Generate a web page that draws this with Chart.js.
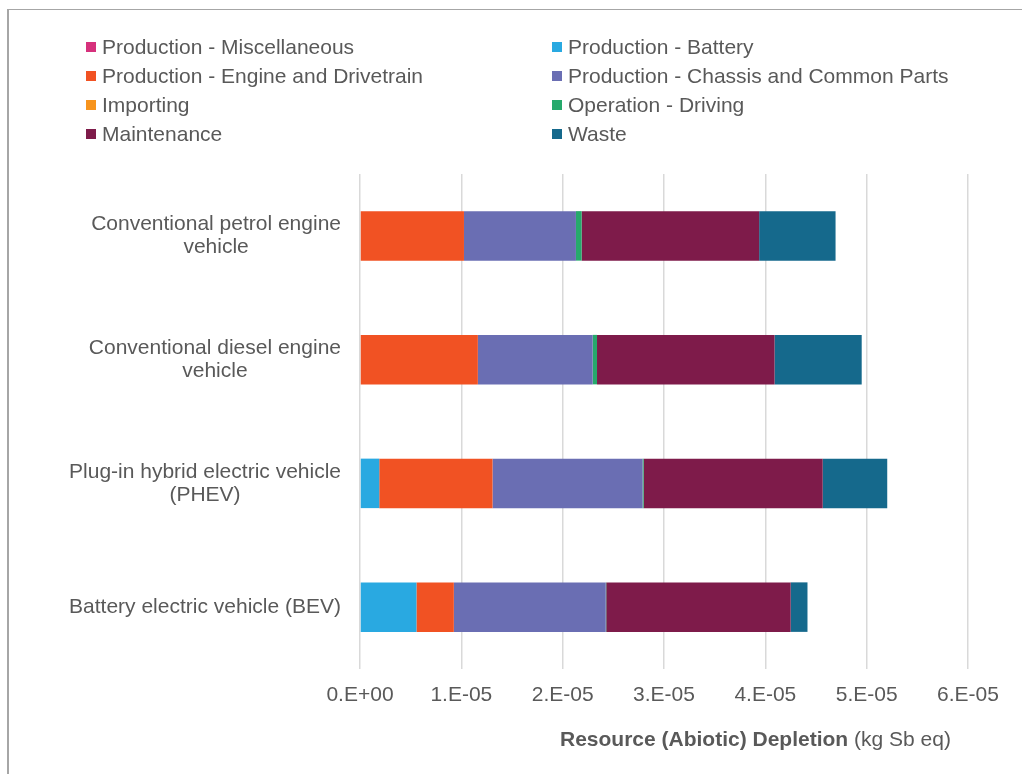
<!DOCTYPE html>
<html>
<head>
<meta charset="utf-8">
<title>Resource (Abiotic) Depletion</title>
<script src="https://cdn.jsdelivr.net/npm/chart.js@4.4.1/dist/chart.umd.min.js"></script>
<style>
  html, body { margin: 0; padding: 0; background: #fff; }
  #wrap { position: relative; width: 1022px; height: 774px; overflow: hidden; }
  #frame {
    position: absolute; left: 7px; top: 9px; right: 0; bottom: 0;
    border-left: 2px solid #a6a6a6; border-top: 1px solid #a6a6a6;
    pointer-events: none;
  }
  canvas { position: absolute; left: 0; top: 0; }
</style>
</head>
<body>
<div id="wrap">
  <canvas id="depletionChart" width="1022" height="774"></canvas>
  <div id="frame"></div>
</div>
<script>
// Vehicle types, top to bottom
const vehicles = [
  ['Conventional petrol engine', 'vehicle'],
  ['Conventional diesel engine', 'vehicle'],
  ['Plug-in hybrid electric vehicle', '(PHEV)'],
  ['Battery electric vehicle (BEV)']
];

// Life-cycle stages in stacking order
const stages = [
  'Production - Miscellaneous',
  'Production - Battery',
  'Production - Engine and Drivetrain',
  'Production - Chassis and Common Parts',
  'Importing',
  'Operation - Driving',
  'Maintenance',
  'Waste'
];

const stageColors = [
  '#d6317c', '#29a9e1', '#f15223', '#6a6eb3',
  '#f7941d', '#26a96c', '#7e1b4a', '#15698c'
];

// kg Sb eq per stage (petrol, diesel, PHEV, BEV)
const miscValues        = [0, 0, 0, 0];
const batteryValues     = [0, 0, 0.19e-5, 0.557e-5];
const engineValues      = [1.026e-5, 1.163e-5, 1.118e-5, 0.369e-5];
const chassisValues     = [1.105e-5, 1.133e-5, 1.481e-5, 1.499e-5];
const importingValues   = [0, 0, 0, 0];
const drivingValues     = [0.056e-5, 0.043e-5, 0.01e-5, 0.005e-5];
const maintenanceValues = [1.752e-5, 1.752e-5, 1.767e-5, 1.82e-5];
const wasteValues       = [0.754e-5, 0.86e-5, 0.637e-5, 0.166e-5];

const xTickLabels = ['0.E+00', '1.E-05', '2.E-05', '3.E-05', '4.E-05', '5.E-05', '6.E-05'];

const FONT = '"Liberation Sans", Arial, sans-serif';
const TEXT_COLOR = '#595959';

Chart.defaults.font.family = FONT;
Chart.defaults.font.size = 21;
Chart.defaults.color = TEXT_COLOR;

const stageValues = [
  miscValues, batteryValues, engineValues, chassisValues,
  importingValues, drivingValues, maintenanceValues, wasteValues
];

// Two-column legend above the plot
const stageLegend = {
  id: 'stageLegend',
  afterDraw(chart) {
    const ctx = chart.ctx;
    const columns = [86, 552];
    ctx.save();
    ctx.font = '21px ' + FONT;
    ctx.textBaseline = 'middle';
    ctx.textAlign = 'left';
    chart.data.datasets.forEach((ds, i) => {
      const x = columns[i % 2];
      const y = 47 + Math.floor(i / 2) * 29;
      ctx.fillStyle = ds.backgroundColor;
      ctx.fillRect(x, y - 5, 10, 10);
      ctx.fillStyle = TEXT_COLOR;
      ctx.fillText(ds.label, x + 16, y + 1);
    });
    ctx.restore();
  }
};

// Category labels: block right-aligned, lines centred within the block
const vehicleLabels = {
  id: 'vehicleLabels',
  afterDraw(chart) {
    const ctx = chart.ctx;
    const yScale = chart.scales.y;
    const right = chart.chartArea.left - 19;
    ctx.save();
    ctx.font = '21px ' + FONT;
    ctx.fillStyle = TEXT_COLOR;
    ctx.textAlign = 'center';
    ctx.textBaseline = 'middle';
    chart.data.labels.forEach((lines, i) => {
      const yc = yScale.getPixelForValue(i);
      const blockW = Math.max(...lines.map(l => ctx.measureText(l).width));
      const cx = right - blockW / 2;
      lines.forEach((line, j) => {
        ctx.fillText(line, cx, yc + (j - (lines.length - 1) / 2) * 23);
      });
    });
    ctx.restore();
  }
};

// X axis title with bold measure and plain unit
const axisTitle = {
  id: 'axisTitle',
  afterDraw(chart) {
    const ctx = chart.ctx;
    const bold = 'Resource (Abiotic) Depletion';
    const unit = ' (kg Sb eq)';
    ctx.save();
    ctx.textBaseline = 'middle';
    ctx.textAlign = 'left';
    ctx.fillStyle = TEXT_COLOR;
    ctx.font = 'bold 21px ' + FONT;
    const x = 560;
    const y = chart.chartArea.bottom + 71;
    ctx.fillText(bold, x, y);
    const w = ctx.measureText(bold).width;
    ctx.font = '21px ' + FONT;
    ctx.fillText(unit, x + w, y);
    ctx.restore();
  }
};

function createChart() {
  const ctx = document.getElementById('depletionChart').getContext('2d');

  const datasets = stages.map((name, i) => ({
    label: name,
    data: stageValues[i],
    backgroundColor: stageColors[i],
    borderWidth: 0,
    barPercentage: 0.4,
    categoryPercentage: 1
  }));

  return new Chart(ctx, {
    type: 'bar',
    data: { labels: vehicles, datasets },
    options: {
      indexAxis: 'y',
      responsive: false,
      animation: false,
      layout: { padding: { top: 174, right: 54, bottom: 0, left: 0 } },
      plugins: {
        legend: { display: false },
        tooltip: { enabled: false }
      },
      scales: {
        x: {
          type: 'linear',
          stacked: true,
          min: 0,
          max: 6e-5,
          ticks: {
            stepSize: 1e-5,
            padding: 14,
            color: TEXT_COLOR,
            callback: (value, index) => xTickLabels[index]
          },
          grid: { color: '#d9d9d9', lineWidth: 1.5, drawTicks: false },
          border: { display: false },
          afterFit: (scale) => { scale.height = 105; }
        },
        y: {
          stacked: true,
          ticks: { display: false },
          grid: { display: false },
          border: { display: false },
          afterFit: (scale) => { scale.width = 360; }
        }
      }
    },
    plugins: [stageLegend, vehicleLabels, axisTitle]
  });
}

document.addEventListener('DOMContentLoaded', createChart);
</script>
</body>
</html>
